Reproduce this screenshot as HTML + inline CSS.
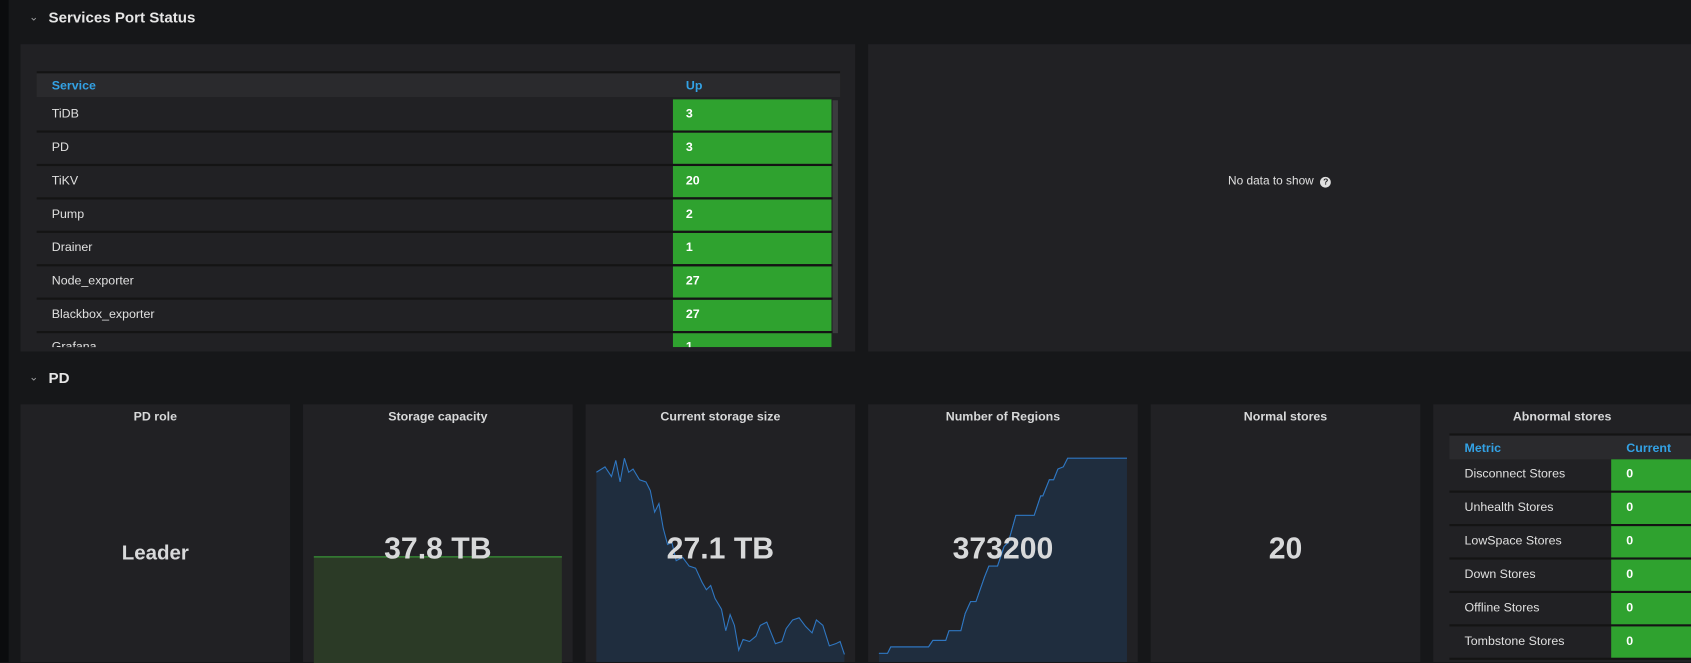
<!DOCTYPE html>
<html><head><meta charset="utf-8"><style>
html,body{margin:0;padding:0;background:#161719;overflow:hidden;width:1691px;height:662px}
#w{position:absolute;left:0;top:0;width:1568px;height:614px;transform:scale(1.07844,1.0782);transform-origin:0 0;font-family:"Liberation Sans",sans-serif;color:#d8d9da}
.strip{position:absolute;left:0;top:0;width:8px;height:614px;background:#0b0c0e}
.h{position:absolute;font-size:14px;font-weight:bold;color:#e6e6e6}
.chev{position:absolute;font-size:10px;color:#9fa0a2}
.p{position:absolute;background:#212124}
.t{position:absolute;left:0;right:0;text-align:center;font-size:11.5px;font-weight:bold;color:#d8d9da;top:6px}
.th{position:absolute;background:#2a2a2d;border-top:2px solid #141414;height:22px;font-size:11.5px;font-weight:bold;color:#33a2e5}
.row{position:absolute;height:29px;border-bottom:2px solid #141414;font-size:11.5px;color:#e0e0e0}
.g{position:absolute;background:#2fa22f;color:#fff;font-weight:bold;font-size:11.5px}
.big{position:absolute;left:0;right:0;text-align:center;font-size:28px;font-weight:bold;color:#d8d9da}
</style></head><body><div id="w">
<div class="strip"></div>
<div class="chev" style="left:27px;top:11px">&#8964;</div>
<div class="h" style="left:45px;top:8px">Services Port Status</div>
<div class="p" style="left:19px;top:41px;width:774px;height:285px;overflow:hidden">
 <div class="th" style="left:15px;top:25px;width:745px"><span style="position:absolute;left:14px;top:6px">Service</span><span style="position:absolute;left:602px;top:6px">Up</span></div>
 <div style="position:absolute;left:753px;top:52px;width:5px;height:216px;background:#3b3b3e"></div>
</div>
<div id="rows"></div>
<div class="p" style="left:805px;top:41px;width:763px;height:285px"><div style="position:absolute;left:0;right:0;top:121px;text-align:center;font-size:11px;color:#e0e0e0">No data to show &nbsp;<span style="display:inline-block;width:10px;height:10px;border-radius:5px;background:#e0e0e0;color:#212124;font-size:8px;line-height:10px;font-weight:bold">?</span></div></div>
<div class="chev" style="left:27px;top:345px">&#8964;</div>
<div class="h" style="left:45px;top:342px">PD</div>

<div class="p" style="left:19px;top:375px;width:250px;height:239px"><div class="t">PD role</div><div class="big" style="top:128px;font-size:19px">Leader</div></div>
<div class="p" style="left:281px;top:375px;width:250px;height:239px"><div class="t">Storage capacity</div>
 <div style="position:absolute;left:10px;top:141px;width:230px;height:98px;background:#2b3a26;border-top:1px solid #3aa33a"></div>
 <div class="big" style="top:118px">37.8 TB</div></div>
<div class="p" style="left:543px;top:375px;width:250px;height:239px"><div class="t">Current storage size</div>
 <svg style="position:absolute;left:0;top:0" width="250" height="239"><path d="M10,63 L18,58 L24,67 L28,52 L32,72 L36,50 L40,63 L44,60 L50,70 L56,72 L60,80 L64,100 L68,92 L72,115 L76,130 L80,128 L84,145 L90,142 L96,150 L102,152 L108,165 L112,172 L116,168 L120,180 L126,190 L130,210 L134,195 L138,205 L142,228 L146,218 L152,220 L158,215 L162,205 L168,202 L172,212 L176,222 L182,220 L186,208 L192,200 L198,198 L204,206 L210,212 L214,200 L220,205 L226,224 L232,222 L236,220 L240,232 L240,239 L10,239Z" fill="#1f2d3e"/><path d="M10,63 L18,58 L24,67 L28,52 L32,72 L36,50 L40,63 L44,60 L50,70 L56,72 L60,80 L64,100 L68,92 L72,115 L76,130 L80,128 L84,145 L90,142 L96,150 L102,152 L108,165 L112,172 L116,168 L120,180 L126,190 L130,210 L134,195 L138,205 L142,228 L146,218 L152,220 L158,215 L162,205 L168,202 L172,212 L176,222 L182,220 L186,208 L192,200 L198,198 L204,206 L210,212 L214,200 L220,205 L226,224 L232,222 L236,220 L240,232" fill="none" stroke="#2f77c2" stroke-width="1"/></svg>
 <div class="big" style="top:118px">27.1 TB</div></div>
<div class="p" style="left:805px;top:375px;width:250px;height:239px"><div class="t">Number of Regions</div>
 <svg style="position:absolute;left:0;top:0" width="250" height="239">
 <path d="M10,231 L18,231 L21,225 L56,225 L60,219 L72,219 L75,210 L86,210 L90,194 L96,172 L101,172 L110,140 L118,121 L125,118 L132,99 L134,99 L144,76 L148,76 L154,64 L158,57 L166,57 L173,36 L176,36 L184,18 L186,13 L196,7 L205,7 L210,-1" fill="none"/>
 <path id="rg" d="M10,231 L18,231 L21,225 L56,225 L60,219 L72,219 L75,210 L86,210 L90,194 L95,183 L100,183 L108,160 L112,150 L120,150 L126,132 L130,128 L137,103 L154,103 L160,85 L162,85 L168,70 L172,70 L176,60 L181,58 L185,50 L240,50" fill="none" stroke="#2f77c2" stroke-width="1"/>
 <path d="M10,231 L18,231 L21,225 L56,225 L60,219 L72,219 L75,210 L86,210 L90,194 L95,183 L100,183 L108,160 L112,150 L120,150 L126,132 L130,128 L137,103 L154,103 L160,85 L162,85 L168,70 L172,70 L176,60 L181,58 L185,50 L240,50 L240,239 L10,239Z" fill="#1f2d3e"/>
 <path d="M10,231 L18,231 L21,225 L56,225 L60,219 L72,219 L75,210 L86,210 L90,194 L95,183 L100,183 L108,160 L112,150 L120,150 L126,132 L130,128 L137,103 L154,103 L160,85 L162,85 L168,70 L172,70 L176,60 L181,58 L185,50 L240,50" fill="none" stroke="#2f77c2" stroke-width="1"/></svg>
 <div class="big" style="top:118px">373200</div></div>
<div class="p" style="left:1067px;top:375px;width:250px;height:239px"><div class="t">Normal stores</div><div class="big" style="top:118px">20</div></div>
<div class="p" style="left:1329px;top:375px;width:239px;height:239px;overflow:hidden"><div class="t">Abnormal stores</div>
 <div class="th" style="left:15px;top:27px;width:230px"><span style="position:absolute;left:14px;top:6px">Metric</span><span style="position:absolute;left:164px;top:6px">Current</span></div>
</div>
<div id="ab"></div>
</div>
<script>
var s=[["TiDB",3],["PD",3],["TiKV",20],["Pump",2],["Drainer",1],["Node_exporter",27],["Blackbox_exporter",27],["Grafana",1]],h="";
s.forEach(function(r,i){var y=92+i*31;var hh=i==7?13:29;h+='<div class="row" style="left:34px;top:'+y+'px;width:738px;height:'+hh+'px;overflow:hidden;'+(i==7?'border:none':'')+'"><span style="position:absolute;left:14px;top:'+(i==7?7:8)+'px">'+r[0]+'</span><div class="g" style="left:590px;top:0;width:147px;height:'+hh+'px"><span style="position:absolute;left:12px;top:'+(i==7?7:8)+'px">'+r[1]+'</span></div></div>';});
document.getElementById("rows").innerHTML=h;
var a=["Disconnect Stores","Unhealth Stores","LowSpace Stores","Down Stores","Offline Stores","Tombstone Stores"],g="";
a.forEach(function(n,i){var y=426+i*31;g+='<div class="row" style="left:1344px;top:'+y+'px;width:224px"><span style="position:absolute;left:14px;top:8px">'+n+'</span><div class="g" style="left:150px;top:0;width:74px;height:29px"><span style="position:absolute;left:14px;top:8px">0</span></div></div>';});
document.getElementById("ab").innerHTML=g;
</script>
</body></html>
